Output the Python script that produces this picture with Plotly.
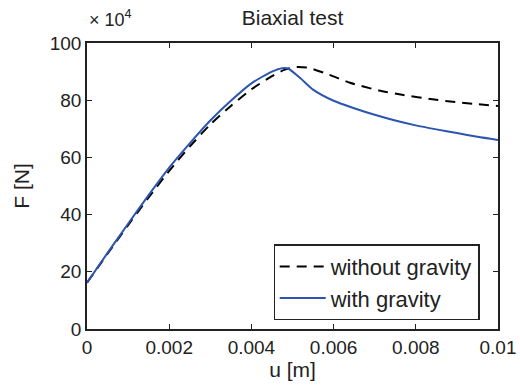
import plotly.graph_objects as go

# displacement u [m]
u_nograv = [0, 0.0005, 0.001, 0.0015, 0.002, 0.0025, 0.003, 0.0035, 0.004, 0.0045, 0.0048,
            0.0051, 0.0054, 0.0058, 0.0064, 0.0071, 0.0077, 0.0084, 0.009, 0.0095, 0.01]
F_nograv = [16.2, 26.3, 36.3, 46.0, 55.3, 63.8, 71.5, 78.0, 83.8, 88.4, 90.6,
            91.6, 91.3, 89.4, 86.1, 83.4, 81.8, 80.3, 79.3, 78.6, 78.0]

u_grav = [0, 0.0005, 0.001, 0.0015, 0.002, 0.0025, 0.003, 0.0035, 0.004, 0.0045, 0.00475,
          0.0049, 0.0052, 0.0055, 0.006, 0.0065, 0.007, 0.0075, 0.008, 0.0085, 0.009, 0.0095, 0.01]
F_grav = [16.2, 26.6, 36.8, 46.8, 56.4, 64.9, 72.9, 79.8, 85.9, 90.0, 91.2,
          91.0, 87.6, 83.7, 79.8, 77.2, 74.9, 72.9, 71.2, 69.8, 68.5, 67.2, 66.1]

x_ticks = [0, 0.002, 0.004, 0.006, 0.008, 0.01]
x_ticklabels = ["0", "0.002", "0.004", "0.006", "0.008", "0.01"]
y_ticks = [0, 20, 40, 60, 80, 100]
y_ticklabels = ["0", "20", "40", "60", "80", "100"]

FONT = "Liberation Sans, Arial, Helvetica, sans-serif"
TXT = "#222222"

fig = go.Figure()
fig.add_trace(go.Scatter(x=u_nograv, y=F_nograv, mode="lines", name="without gravity",
                         line=dict(color="black", width=2, dash="10px,7px", shape="spline", smoothing=0.6)))
fig.add_trace(go.Scatter(x=u_grav, y=F_grav, mode="lines", name="with gravity",
                         line=dict(color="#2b55b0", width=2, shape="spline", smoothing=0.6)))

axis_common = dict(showgrid=False, zeroline=False, showline=True, linecolor=TXT, linewidth=1.5,
                   mirror="ticks", ticks="inside", ticklen=5, tickcolor=TXT, automargin=False,
                   tickfont=dict(family=FONT, size=19, color=TXT))
fig.update_xaxes(range=[0, 0.01], tickvals=x_ticks, ticktext=x_ticklabels,
                 title=dict(text="u [m]", font=dict(family=FONT, size=21, color=TXT), standoff=4),
                 **axis_common)
fig.update_yaxes(range=[0, 100], tickvals=y_ticks, ticktext=y_ticklabels,
                 title=dict(text="F [N]", font=dict(family=FONT, size=21, color=TXT), standoff=14),
                 **axis_common)

fig.update_layout(
    width=520, height=392,
    margin=dict(l=87, r=22, t=43, b=63),
    paper_bgcolor="white", plot_bgcolor="white",
    title=dict(text="Biaxial test", x=0.5, xanchor="center", y=0.955, yanchor="middle",
               xref="paper", yref="container",
               font=dict(family=FONT, size=21, color=TXT)),
    legend=dict(x=0.955, y=0.03, xanchor="right", yanchor="bottom",
                bgcolor="white", bordercolor=TXT, borderwidth=1.2,
                font=dict(family=FONT, size=22, color=TXT),
                tracegroupgap=0, itemwidth=46),
    showlegend=True,
)
fig.add_annotation(text="× 10<sup>4</sup>", xref="paper", yref="paper", x=0.0, y=1.04,
                   xanchor="left", yanchor="bottom", showarrow=False,
                   font=dict(family=FONT, size=18, color=TXT))

fig.write_html("out.html")
